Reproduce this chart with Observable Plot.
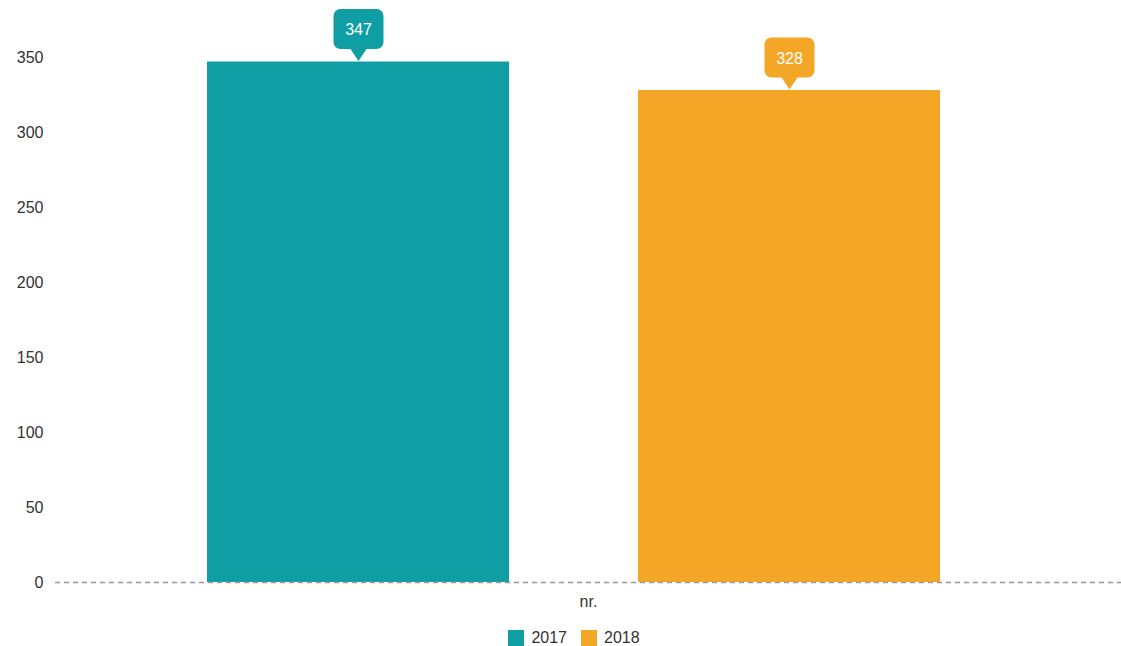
<!DOCTYPE html>
<html>
<head>
<meta charset="utf-8">
<script src="https://cdn.jsdelivr.net/npm/d3@7"></script>
<script src="https://cdn.jsdelivr.net/npm/@observablehq/plot@0.6"></script>
<style>
  body { margin: 0; background: #fff; font-family: "Liberation Sans", Arial, sans-serif; }
  #chart svg { display: block; }
  .legend { display: flex; justify-content: center; align-items: center; gap: 14px; font-size: 16px; color: #333; margin-left: 27px; padding-top: 6px; height: 29px; }
  .legend span.item { display: flex; align-items: center; gap: 7px; }
  .legend span.sw { width: 16px; height: 16px; display: inline-block; }
</style>
</head>
<body>
<div id="chart"></div>
<script>
const categories = ["nr."];
const years = ["2017", "2018"];
const values = [347, 328];
const colors = ["#109ea5", "#f4a627"];
const yTicks = [0, 50, 100, 150, 200, 250, 300, 350];

const data = years.map((y, i) => ({category: categories[0], year: y, value: values[i]}));

// rounded callout box with a pointer, drawn relative to the bar top
const callout = {
  draw(ctx) {
    const w = 25, top = -53, bottom = -13, r = 7, pw = 8, tip = -1;
    ctx.moveTo(-w + r, top);
    ctx.lineTo(w - r, top);
    ctx.arcTo(w, top, w, top + r, r);
    ctx.lineTo(w, bottom - r);
    ctx.arcTo(w, bottom, w - r, bottom, r);
    ctx.lineTo(pw, bottom);
    ctx.lineTo(0, tip);
    ctx.lineTo(-pw, bottom);
    ctx.lineTo(-w + r, bottom);
    ctx.arcTo(-w, bottom, -w, bottom - r, r);
    ctx.lineTo(-w, top + r);
    ctx.arcTo(-w, top, -w + r, top, r);
    ctx.closePath();
  }
};

const chart = Plot.plot({
  width: 1121,
  height: 617,
  marginLeft: 55,
  marginRight: 0,
  marginTop: 57,
  marginBottom: 35,
  style: {fontFamily: "'Liberation Sans', Arial, sans-serif", fontSize: "16px", color: "#333", background: "#fff"},
  fx: {domain: categories, padding: 0, label: null, axis: "bottom", tickSize: 0, tickPadding: 13},
  x: {domain: years, axis: null, paddingInner: 0.299, paddingOuter: 0.386, align: 0.456},
  y: {domain: [0, 350], ticks: yTicks, tickSize: 0, tickPadding: 12, label: null, nice: false},
  color: {domain: years, range: colors},
  marks: [
    Plot.barY(data, {fx: "category", x: "year", y: "value", fill: "year"}),
    Plot.ruleY([0], {stroke: "#999", strokeWidth: 1.3, strokeDasharray: "5,4"}),
    Plot.dot(data, {fx: "category", x: "year", y: "value", fill: "year", stroke: "none", symbol: callout, r: 1}),
    Plot.text(data, {fx: "category", x: "year", y: "value", text: d => String(d.value), fill: "white", dy: -32, fontSize: 16})
  ]
});
document.getElementById("chart").appendChild(chart);

const legend = document.createElement("div");
legend.className = "legend";
years.forEach((y, i) => {
  const item = document.createElement("span");
  item.className = "item";
  const sw = document.createElement("span");
  sw.className = "sw";
  sw.style.background = colors[i];
  item.appendChild(sw);
  item.appendChild(document.createTextNode(y));
  legend.appendChild(item);
});
document.body.appendChild(legend);
</script>
</body>
</html>
